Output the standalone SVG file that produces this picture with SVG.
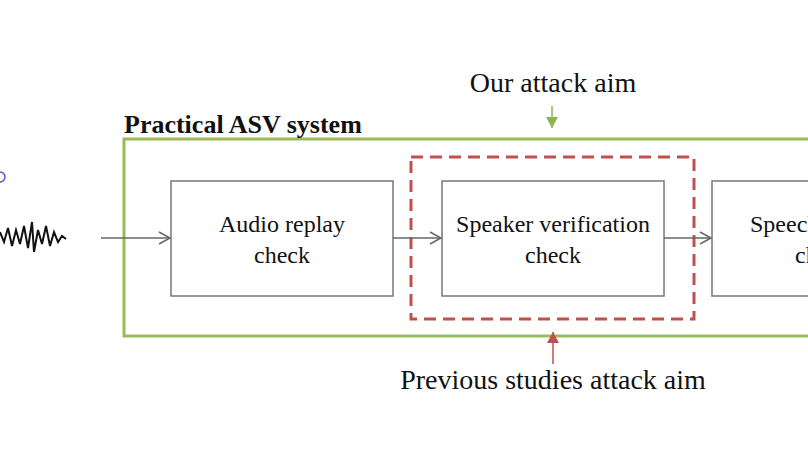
<svg xmlns="http://www.w3.org/2000/svg" width="808" height="455" viewBox="0 0 808 455">
<style>
.t{font-family:"Liberation Serif",serif;font-size:24px;fill:#111;text-anchor:middle}
.box{fill:#fff;stroke:#777;stroke-width:1.5}
.c{stroke:#666;stroke-width:1.5;fill:none}
</style>
<defs>
<marker id="a" markerWidth="14" markerHeight="14" refX="12" refY="7" orient="auto" markerUnits="userSpaceOnUse"><path d="M1,1 L12,7 L1,13" fill="none" stroke="#666" stroke-width="1.5"/></marker>
<marker id="g" markerWidth="12" markerHeight="12" refX="6" refY="11" orient="0" markerUnits="userSpaceOnUse"><path d="M0,0 L12,0 L6,11 Z" fill="#8DB450"/></marker>
<marker id="r" markerWidth="12" markerHeight="12" refX="6" refY="1" orient="0" markerUnits="userSpaceOnUse"><path d="M0,12 L12,12 L6,1 Z" fill="#C0504D"/></marker>
</defs>
<rect width="808" height="455" fill="#fff"/>
<g id="system"><rect x="124" y="139" width="700" height="197" fill="none" stroke="#9BBB59" stroke-width="3"/>
<text x="124" y="133" style="font-family:'Liberation Serif',serif;font-size:26px;font-weight:bold;fill:#111">Practical ASV system</text></g>
<g id="wave"><path d="M0,232 L4,242 L8,228 L12,246 L16,230 L20,244 L24,226 L28,248 L32,222 L34,252 L38,230 L42,244 L46,226 L50,246 L54,232 L58,242 L62,236 L66,239" fill="none" stroke="#111" stroke-width="2"/><path d="M0,172 a3,3 0 0 1 0,10" fill="none" stroke="#55c" stroke-width="1.5"/></g>
<g id="n1"><rect class="box" x="171" y="181" width="222" height="115"/><text class="t" x="282" y="232">Audio replay</text><text class="t" x="282" y="263">check</text></g>
<g id="n2"><rect class="box" x="442" y="181" width="222" height="115"/><text class="t" x="553" y="232">Speaker verification</text><text class="t" x="553" y="263">check</text></g>
<g id="n3"><rect class="box" x="712" y="181" width="222" height="115"/><text class="t" x="823" y="232">Speech content</text><text class="t" x="823" y="263">check</text></g>
<g id="prev"><rect x="411" y="157" width="283" height="162" fill="none" stroke="#C0504D" stroke-width="3" stroke-dasharray="12,7"/></g>
<g id="connectors">
<line class="c" x1="101" y1="238" x2="170" y2="238" marker-end="url(#a)"/>
<line class="c" x1="393" y1="238" x2="441" y2="238" marker-end="url(#a)"/>
<line class="c" x1="664" y1="238" x2="711" y2="238" marker-end="url(#a)"/>
<line x1="552" y1="106" x2="552" y2="128" stroke="#8DB450" stroke-width="1.5" marker-end="url(#g)"/>
<line x1="553" y1="364" x2="553" y2="332" stroke="#C0504D" stroke-width="1.5" marker-end="url(#r)"/>
</g>
<text class="t" x="553" y="92" style="font-size:28px">Our attack aim</text>
<text class="t" x="553" y="389" style="font-size:28px">Previous studies attack aim</text>
</svg>
